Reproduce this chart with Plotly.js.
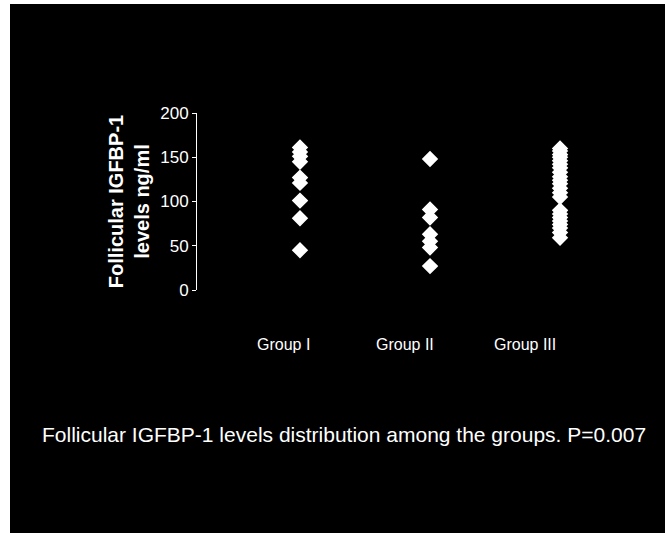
<!DOCTYPE html>
<html>
<head>
<meta charset="utf-8">
<script src="https://cdn.plot.ly/plotly-3.0.1.min.js"></script>
<style>
  html, body { margin: 0; padding: 0; background: #ffffff; }
  #chart { position: absolute; left: 10px; top: 4px; width: 655px; height: 529px; background: #000; }
</style>
</head>
<body>
<div id="chart"></div>
<script>
// ---- Data ----
const groups = ["Group I", "Group II", "Group III"];
const groupI = [161, 156, 151, 145, 127, 121, 101, 81, 45];
const groupII = [148, 91, 82, 63, 55, 48, 27];
const groupIII = [160, 157, 153, 150, 146, 142, 138, 133, 128, 124, 120, 115, 110, 105, 90, 86, 82, 78, 74, 70, 65, 59];
const yTicks = [0, 50, 100, 150, 200];
const yTitle = "Follicular IGFBP-1<br>levels ng/ml";
const caption = "Follicular IGFBP-1 levels distribution among the groups. P=0.007";

const series = [groupI, groupII, groupIII];
const xs = [], ys = [];
series.forEach((vals, i) => vals.forEach(v => { xs.push(groups[i]); ys.push(v); }));

const W = 655, H = 529;
const mL = 187, mR = 25, mT = 109, mB = 243;
const plotW = W - mL - mR;
const labelShift = [-16, -25, -35];
const FONT = "Arial, Liberation Sans, sans-serif";

const trace = {
  type: "scatter", mode: "markers",
  x: xs, y: ys,
  marker: { symbol: "diamond", size: 11, color: "#ffffff", line: { color: "#ffffff", width: 1.5 } },
  hoverinfo: "skip"
};

const annotations = groups.map((g, i) => ({
  xref: "x", yref: "paper", x: g, y: 0, yanchor: "middle", xanchor: "center",
  yshift: -54, xshift: labelShift[i], showarrow: false, text: g,
  font: { family: FONT, size: 16, color: "#ffffff" }
}));
annotations.push({
  xref: "paper", yref: "paper", x: (334 - mL) / plotW, y: 0, xanchor: "center", yanchor: "middle",
  yshift: -144, showarrow: false, text: caption,
  font: { family: FONT, size: 21, color: "#ffffff" }
});

const layout = {
  width: W, height: H,
  margin: { l: mL, r: mR, t: mT, b: mB },
  paper_bgcolor: "#000000", plot_bgcolor: "#000000",
  showlegend: false,
  xaxis: {
    type: "category", categoryarray: groups, range: [-0.792, 2.615],
    showline: false, showgrid: false, zeroline: false, showticklabels: false, ticks: ""
  },
  yaxis: {
    range: [0, 200], tickvals: yTicks, ticktext: yTicks.map(String),
    showline: true, linecolor: "#ffffff", linewidth: 1,
    ticks: "outside", ticklen: 4, tickcolor: "#ffffff", tickwidth: 1,
    showgrid: false, zeroline: false,
    tickfont: { family: FONT, size: 17, color: "#ffffff" },
    title: { text: yTitle, standoff: 5, font: { family: FONT, size: 20, color: "#ffffff", weight: "bold" } }
  },
  annotations: annotations
};

Plotly.newPlot("chart", [trace], layout, { displayModeBar: false, staticPlot: true });
</script>
</body>
</html>
